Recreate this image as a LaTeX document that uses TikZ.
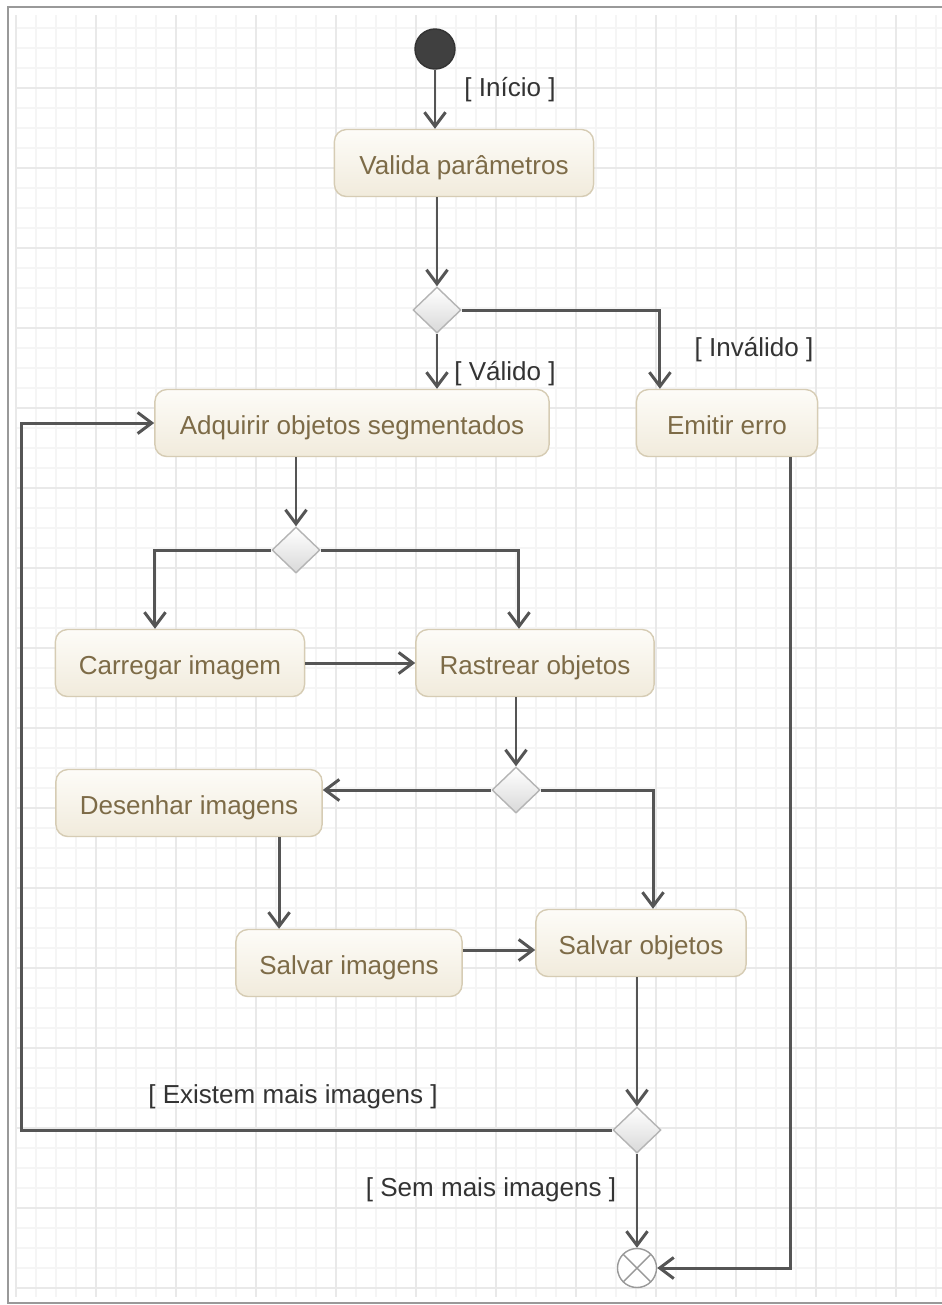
\documentclass[tikz,border=0pt]{standalone}
\usepackage{fontspec}
\setmainfont{Liberation Sans}
\usetikzlibrary{%
    arrows.meta,%
    shapes.geometric%
}
\definecolor{boxtext}{HTML}{7D6B47}
\definecolor{boxline}{HTML}{D6CCB4}
\definecolor{boxtop}{HTML}{FDFCF8}
\definecolor{boxbottom}{HTML}{F1EBDC}
\definecolor{diamline}{HTML}{B4B4B4}
\definecolor{diamfill}{HTML}{D9D9D9}
\definecolor{flowline}{HTML}{555555}
\definecolor{labeltext}{HTML}{333333}
\definecolor{minorgrid}{HTML}{F5F5F5}
\definecolor{majorgrid}{HTML}{E9E9E9}

\begin{document}
\begin{tikzpicture}[
    x=0.01cm,y=-0.01cm,
    >={Straight Barb[length=4pt,width=6pt]},
    activity/.style={draw=boxline,rounded corners=0.12cm,
        top color=boxtop,bottom color=boxbottom,
        text=boxtext,font=\fontsize{7.4}{9}\selectfont,
        text height=7pt,text depth=0.6pt,
        minimum height=0.67cm,inner sep=0pt},
    decision/.style={diamond,draw=diamline,inner sep=0pt,
        minimum width=0.48cm,minimum height=0.46cm,
        top color=white,bottom color=diamfill},
    flow/.style={->,draw=flowline,line width=0.85pt},
    guard/.style={text=labeltext,font=\fontsize{7.4}{9}\selectfont},
    ]
    \useasboundingbox (0,0) rectangle (942,1305);
    % Sheet
    \fill[white] (0,0) rectangle (942,1305);
    \foreach \x in {16,36,...,936}
        \draw[minorgrid,line width=0.4pt] (\x,15) -- (\x,1297);
    \foreach \y in {28,48,...,1288}
        \draw[minorgrid,line width=0.4pt] (16,\y) -- (942,\y);
    \foreach \x in {16,96,...,896}
        \draw[majorgrid,line width=0.5pt] (\x,15) -- (\x,1297);
    \foreach \y in {88,168,...,1288}
        \draw[majorgrid,line width=0.5pt] (16,\y) -- (942,\y);
    \draw[gray!80] (8,7) rectangle (960,1303);

    % Start and end
    \node[circle,fill=black!75,draw=black!80,minimum size=0.4cm,
          inner sep=0pt] (start) at (435,49) {};
    \node[circle,draw=gray!80,fill=white,minimum size=0.39cm,inner sep=0pt,
          path picture={\draw[gray!80]
              (path picture bounding box.north east)
              -- (path picture bounding box.south west)
              (path picture bounding box.north west)
              -- (path picture bounding box.south east);}]
          (fin) at (637,1268) {};

    % Activities
    \node[activity,minimum width=2.59cm] (valida) at (464,163)
         {Valida parâmetros};
    \node[activity,minimum width=3.94cm] (adq) at (352,423)
         {Adquirir objetos segmentados};
    \node[activity,minimum width=1.81cm] (err) at (727,423) {Emitir erro};
    \node[activity,minimum width=2.49cm] (carr) at (180,663)
         {Carregar imagem};
    \node[activity,minimum width=2.38cm] (rast) at (535,663)
         {Rastrear objetos};
    \node[activity,minimum width=2.66cm] (des) at (189,803)
         {Desenhar imagens};
    \node[activity,minimum width=2.26cm] (salvi) at (349,963)
         {Salvar imagens};
    \node[activity,minimum width=2.10cm] (salvo) at (641,943)
         {Salvar objetos};

    % Decisions
    \node[decision] (d1) at (437,310) {};
    \node[decision] (d2) at (296,550) {};
    \node[decision] (d3) at (516,790) {};
    \node[decision] (d4) at (637,1130) {};

    % Flows
    \draw[flow] (start) -- (start |- valida.north);
    \draw[flow] (valida.south -| d1) -- (d1.north);
    \draw[flow] (d1.south) -- (d1 |- adq.north);
    \draw[flow] (d1.east) -| ([xshift=-0.67cm]err.north);
    \draw[flow] (adq.south -| d2) -- (d2.north);
    \draw[flow] (d2.west) -| ([xshift=-0.25cm]carr.north);
    \draw[flow] (d2.east) -| ([xshift=-0.16cm]rast.north);
    \draw[flow] (carr.east) -- (carr.east -| rast.west);
    \draw[flow] (rast.south -| d3) -- (d3.north);
    \draw[flow] (d3.west) -- (d3.west -| des.east);
    \draw[flow] (d3.east) -| ([xshift=0.12cm]salvo.north);
    \draw[flow] ([xshift=0.9cm]des.south)
         -- ([xshift=0.9cm]des.south |- salvi.north);
    \draw[flow] ([yshift=0.13cm]salvi.east)
         -- ([yshift=0.13cm]salvi.east -| salvo.west);
    \draw[flow] (salvo.south -| d4) -- (d4.north);
    \draw[flow] (d4.west) -| ([xshift=-1.33cm]adq.west) -- (adq.west);
    \draw[flow] (d4.south) -- (fin.north);
    \draw[flow] ([xshift=0.63cm]err.south) |- (fin.east);

    % Guards
    \node[guard] (ginicio) at (510,90) {[ Início ]};
    \node[guard] (gvalido) at (505,374) {[ Válido ]};
    \node[guard] (ginvalido) at (754,350) {[ Inválido ]};
    \node[guard] (gmais) at (293,1097) {[ Existem mais imagens ]};
    \node[guard] (gsem) at (491,1190) {[ Sem mais imagens ]};
\end{tikzpicture}
\end{document}
